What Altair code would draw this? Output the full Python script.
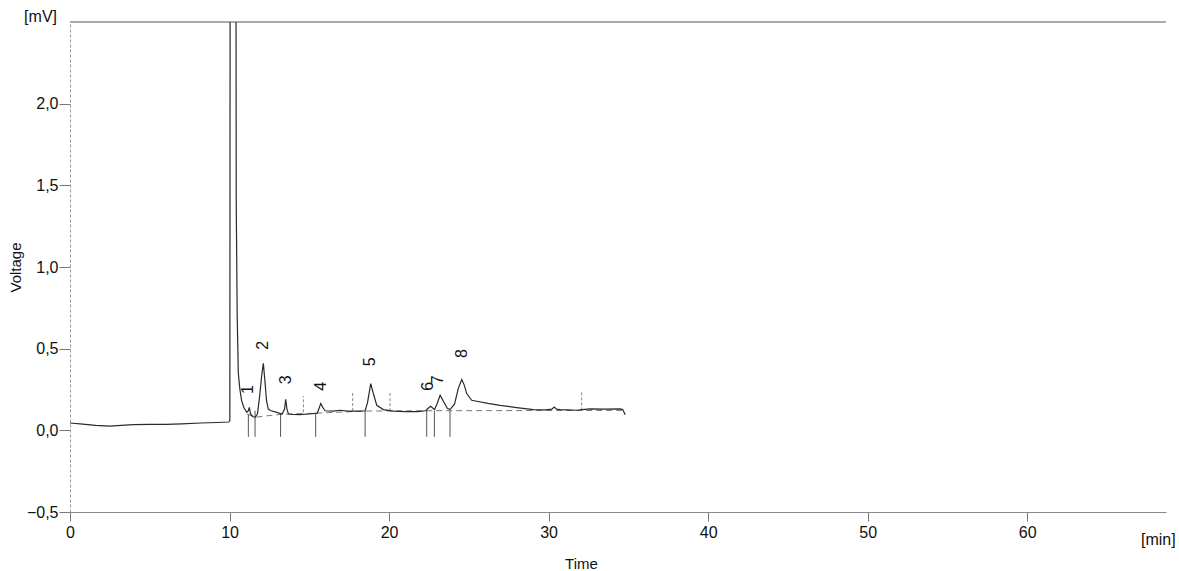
import altair as alt
import pandas as pd

# Chromatogram signal (time in min, voltage in mV)
time = [0, 0.8, 1.6, 2.5, 3.2, 4.0, 5.0, 6.0, 7.0, 8.2, 9.2, 9.95, 10.02, 10.05, 10.38, 10.42,
        10.48, 10.55, 10.65, 10.76, 10.9, 11.08, 11.18, 11.24, 11.32, 11.45, 11.6, 11.75, 11.9,
        12.02, 12.12, 12.22, 12.32, 12.43, 12.6, 12.96, 13.3, 13.45, 13.52, 13.6, 13.69, 14.0,
        14.4, 15.0, 15.5, 15.72, 15.85, 15.99, 16.5, 16.93, 17.4, 17.76, 18.2, 18.5, 18.65,
        18.85, 19.0, 19.23, 19.64, 20.27, 21.0, 21.8, 22.3, 22.45, 22.61, 22.75, 22.85, 23.0,
        23.2, 23.45, 23.65, 23.82, 24.1, 24.35, 24.56, 24.7, 24.87, 25.18, 25.5, 26.2, 26.96,
        28.0, 29.05, 29.8, 30.2, 30.35, 30.5, 30.72, 31.2, 31.77, 32.1, 32.6, 33.5, 34.48,
        34.65, 34.8]
voltage = [0.045, 0.038, 0.03, 0.026, 0.03, 0.035, 0.036, 0.037, 0.04, 0.045, 0.048, 0.051,
           0.06, 5, 5, 1.4, 0.7, 0.35, 0.25, 0.18, 0.14, 0.11, 0.12, 0.14, 0.1, 0.085, 0.08,
           0.1, 0.22, 0.34, 0.41, 0.3, 0.18, 0.13, 0.12, 0.11, 0.1, 0.13, 0.19, 0.13, 0.1,
           0.097, 0.096, 0.1, 0.105, 0.164, 0.14, 0.12, 0.118, 0.123, 0.118, 0.117, 0.118,
           0.12, 0.17, 0.286, 0.23, 0.153, 0.127, 0.118, 0.115, 0.115, 0.12, 0.135, 0.147,
           0.135, 0.127, 0.16, 0.215, 0.17, 0.135, 0.127, 0.16, 0.26, 0.311, 0.28, 0.225,
           0.184, 0.178, 0.165, 0.153, 0.139, 0.127, 0.125, 0.13, 0.143, 0.13, 0.127, 0.125,
           0.123, 0.127, 0.131, 0.13, 0.131, 0.128, 0.096]

# Integration baseline (dashed)
base_time = [11.1, 11.6, 12.9, 13.7, 15.4, 18.5, 22.4, 34.7]
base_volt = [0.1, 0.08, 0.095, 0.1, 0.105, 0.118, 0.12, 0.122]

# Peak boundary markers (down) and event markers (up)
down_time = [11.18, 11.6, 13.2, 15.4, 18.5, 22.36, 22.84, 23.82]
down_top = [0.1, 0.12, 0.1, 0.1, 0.12, 0.12, 0.12, 0.12]
down_bottom = [-0.04, -0.04, -0.04, -0.04, -0.04, -0.04, -0.04, -0.04]
up_time = [14.63, 17.72, 20.06, 32.07]
up_bottom = [0.11, 0.118, 0.118, 0.122]
up_top = [0.21, 0.23, 0.24, 0.245]

# Peak labels
peak_names = ["1", "2", "3", "4", "5", "6", "7", "8"]
peak_time = [11.16, 12.10, 13.54, 15.74, 18.81, 22.44, 23.07, 24.58]
peak_label_v = [0.25, 0.52, 0.31, 0.27, 0.42, 0.27, 0.31, 0.47]

y_ticks = [-0.5, 0, 0.5, 1.0, 1.5, 2.0]
x_ticks = [0, 10, 20, 30, 40, 50, 60]

FONT = "Liberation Sans"
xs = alt.Scale(domain=[0, 68.7], nice=False, zero=False)
ys = alt.Scale(domain=[-0.5, 2.5], nice=False, zero=False)

sig = pd.DataFrame({"t": time, "v": voltage})
base = pd.DataFrame({"t": base_time, "v": base_volt})
dm = pd.DataFrame({"t": down_time, "a": down_top, "b": down_bottom})
um = pd.DataFrame({"t": up_time, "a": up_bottom, "b": up_top})
lab = pd.DataFrame({"t": peak_time, "v": peak_label_v, "n": peak_names})
top = pd.DataFrame({"v": [2.5]})

line = alt.Chart(sig).mark_line(color="#2a2a2a", strokeWidth=1.2, clip=True).encode(
    x=alt.X("t:Q", scale=xs, axis=alt.Axis(
        title="Time", values=x_ticks, labelFontSize=16, titleFontSize=15,
        titleFontWeight="normal", titleFont=FONT, labelFont=FONT, labelColor="#111",
        titleColor="#111", tickColor="#777", domainColor="#888", tickSize=9,
        labelPadding=3, labelFlush=False, titleX=511, titleY=44, grid=False)),
    y=alt.Y("v:Q", scale=ys, axis=alt.Axis(
        title="Voltage", values=y_ticks, labelFontSize=16, titleFontSize=15,
        titleFontWeight="normal", titleFont=FONT, labelFont=FONT, labelColor="#111",
        titleColor="#111", tickColor="#777", domainColor="#999", domainDash=[3, 2],
        tickSize=11, labelPadding=1, labelFlush=False, titleX=-47, titleY=245, grid=False,
        labelExpr="replace(format(datum.value, '.1f'), '.', ',')")),
    order="t:Q",
)

baseline = alt.Chart(base).mark_line(color="#777", strokeWidth=1, strokeDash=[6, 4]).encode(
    x=alt.X("t:Q", scale=xs), y=alt.Y("v:Q", scale=ys))

downs = alt.Chart(dm).mark_rule(color="#555", strokeWidth=1).encode(
    x=alt.X("t:Q", scale=xs), y=alt.Y("a:Q", scale=ys), y2="b:Q")
ups = alt.Chart(um).mark_rule(color="#888", strokeWidth=1, strokeDash=[3, 2]).encode(
    x=alt.X("t:Q", scale=xs), y=alt.Y("a:Q", scale=ys), y2="b:Q")

labels = alt.Chart(lab).mark_text(angle=270, fontSize=16, font=FONT, color="#111",
                                  align="center", baseline="middle").encode(
    x=alt.X("t:Q", scale=xs), y=alt.Y("v:Q", scale=ys), text="n:N")

topline = alt.Chart(top).mark_rule(color="#555", strokeWidth=1).encode(y=alt.Y("v:Q", scale=ys))

mv = alt.Chart(pd.DataFrame({"s": ["[mV]"]})).mark_text(
    fontSize=16, font=FONT, color="#111", align="right", baseline="middle").encode(
    x=alt.value(-13), y=alt.value(-5), text="s:N")
mn = alt.Chart(pd.DataFrame({"s": ["[min]"]})).mark_text(
    fontSize=16, font=FONT, color="#111", align="left", baseline="middle").encode(
    x=alt.value(1071), y=alt.value(518), text="s:N")

chart = alt.layer(topline, baseline, downs, ups, line, labels, mv, mn).properties(
    width=1096, height=490,
    autosize=alt.AutoSizeParams(type="none"),
    padding={"left": 70, "top": 22, "right": 13, "bottom": 59},
    background="white",
).configure_view(stroke=None)

chart.save("out.html", embed_options={"renderer": "svg", "actions": False})
